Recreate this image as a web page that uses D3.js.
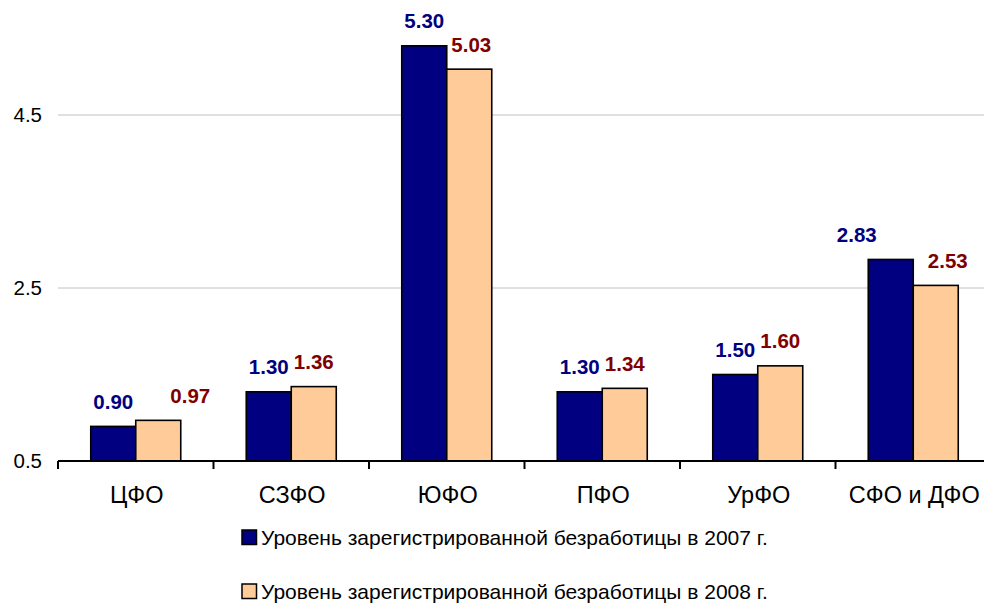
<!DOCTYPE html>
<html><head><meta charset="utf-8">
<script src="https://cdn.jsdelivr.net/npm/d3@7/dist/d3.min.js"></script>
<style>body{margin:0;background:#fff}svg{display:block}</style>
</head><body><svg id="c" width="984" height="605"></svg>
<script>
const categories = ["ЦФО","СЗФО","ЮФО","ПФО","УрФО","СФО и ДФО"];
const values2007 = [0.90,1.30,5.30,1.30,1.50,2.83];
const values2008 = [0.97,1.36,5.03,1.34,1.60,2.53];
const yTicks = [0.5,2.5,4.5];
const seriesNames = ["Уровень зарегистрированной безработицы в 2007 г.","Уровень зарегистрированной безработицы в 2008 г."];

// label horizontal nudges (px) to mimic the original label placement
const nudge2007 = [0,0,0,0,0,-34];
const nudge2008 = [32,0,2,0,0,12];

const svg = d3.select("#c");
const mLeft = 58, mRight = 58 + 6*155.5, mTop = 28.5, mBottom = 461;
const x = d3.scaleBand().domain(categories).range([mLeft,mRight]).paddingInner(0).paddingOuter(0);
const y = d3.scaleLinear().domain([0.5,5.5]).range([mBottom,mTop]);
const barW = 45;
const colors = ["#000080","#FFCC99"];
const labelColors = ["#000080","#800000"];
const font = "Liberation Sans, Arial, sans-serif";

// gridlines
svg.append("g").selectAll("line").data(yTicks.filter(d=>d>0.5)).join("line")
  .attr("x1",mLeft).attr("x2",mRight).attr("y1",d=>y(d)).attr("y2",d=>y(d))
  .attr("stroke","#c0c0c0").attr("stroke-width",1);

// y tick labels
svg.append("g").selectAll("text").data(yTicks).join("text")
  .attr("x",42).attr("y",d=>y(d)).attr("dy","0.35em").attr("text-anchor","end")
  .attr("font-family",font).attr("font-size",20.5).attr("fill","#000").text(d=>d.toFixed(1));

// bars
const series = [values2007, values2008];
const nudges = [nudge2007, nudge2008];
series.forEach((vals,si)=>{
  const g = svg.append("g");
  g.selectAll("rect").data(vals).join("rect")
    .attr("x",(d,i)=>x(categories[i]) + (x.bandwidth()-2*barW)/2 + si*barW)
    .attr("y",d=>y(d)).attr("width",barW).attr("height",d=>y(0.5)-y(d))
    .attr("fill",colors[si]).attr("stroke","#000").attr("stroke-width",1.6);
  g.selectAll("text").data(vals).join("text")
    .attr("x",(d,i)=>x(categories[i]) + (x.bandwidth()-2*barW)/2 + si*barW + barW/2 + nudges[si][i])
    .attr("y",d=>y(d)-17.5).attr("text-anchor","middle")
    .attr("font-family",font).attr("font-size",20.5).attr("font-weight","bold")
    .attr("fill",labelColors[si]).text(d=>d.toFixed(2));
});

// x axis
const xa = svg.append("g");
xa.append("line").attr("x1",mLeft).attr("x2",mRight).attr("y1",mBottom).attr("y2",mBottom)
  .attr("stroke","#000").attr("stroke-width",2);
xa.selectAll("line.t").data(d3.range(categories.length+1)).join("line").attr("class","t")
  .attr("x1",i=>mLeft+i*x.bandwidth()).attr("x2",i=>mLeft+i*x.bandwidth())
  .attr("y1",mBottom).attr("y2",mBottom+8).attr("stroke","#000").attr("stroke-width",2);
xa.selectAll("text").data(categories).join("text")
  .attr("x",d=>x(d)+x.bandwidth()/2+1).attr("y",503).attr("text-anchor","middle")
  .attr("font-family",font).attr("font-size",23.5).attr("fill","#000").text(d=>d);

// legend
const lg = svg.append("g");
const legendBase = [545, 599];
seriesNames.forEach((name,i)=>{
  const yy = legendBase[i];
  lg.append("rect").attr("x",242).attr("y",yy-15).attr("width",14.5).attr("height",14.5)
    .attr("fill",colors[i]).attr("stroke","#000").attr("stroke-width",1.5);
  lg.append("text").attr("x",261).attr("y",yy).attr("font-family",font).attr("font-size",21)
    .attr("fill","#000").text(name);
});
</script></body></html>
